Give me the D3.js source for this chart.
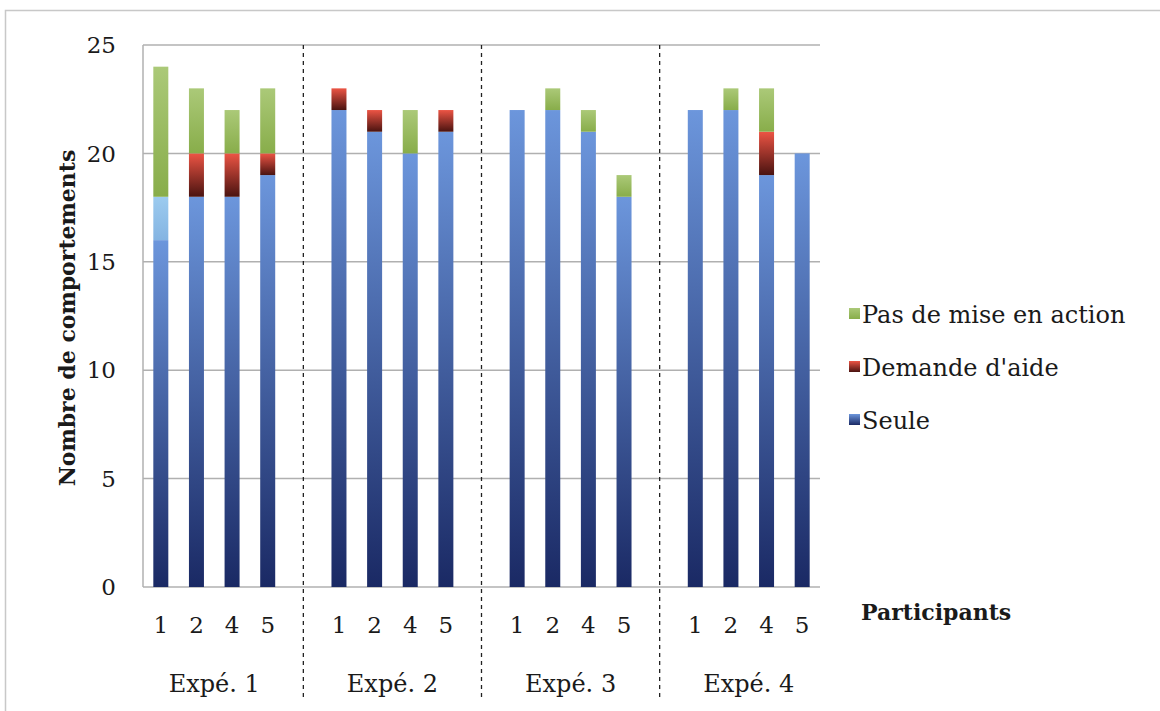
<!DOCTYPE html>
<html>
<head>
<meta charset="utf-8">
<script src="https://cdn.jsdelivr.net/npm/d3@7"></script>
<style>
  html, body { margin: 0; padding: 0; background: #fff; }
  svg text { font-family: "DejaVu Serif", serif; fill: #1a1a1a; }
</style>
</head>
<body>
<svg id="chart" width="1160" height="711"></svg>
<script>
// Experiments and the participants shown in each
const experiments = ["Expé. 1", "Expé. 2", "Expé. 3", "Expé. 4"];
const participants = ["1", "2", "4", "5"];

// Behaviour counts per bar, in order Expé 1 (P1,P2,P4,P5) ... Expé 4
const seule        = [16, 18, 18, 19,  22, 21, 20, 21,  22, 22, 21, 18,  22, 22, 19, 20];
const autre        = [ 2,  0,  0,  0,   0,  0,  0,  0,   0,  0,  0,  0,   0,  0,  0,  0];
const demandeAide  = [ 0,  2,  2,  1,   1,  1,  0,  1,   0,  0,  0,  0,   0,  0,  2,  0];
const pasDeMise    = [ 6,  3,  2,  3,   0,  0,  2,  0,   0,  1,  1,  1,   0,  1,  2,  0];

const yTicks = [0, 5, 10, 15, 20, 25];

const seriesNames = ["Seule", "Autre", "Demande d'aide", "Pas de mise en action"];
const legendNames = ["Pas de mise en action", "Demande d'aide", "Seule"];

const svg = d3.select("#chart");
const defs = svg.append("defs");

// vertical gradients: [top colour, bottom colour]
const grads = {
  "Seule": ["#6c96dc", "#1a2964"],
  "Autre": ["#9ccbef", "#84b4e2"],
  "Demande d'aide": ["#ec5444", "#4a1310"],
  "Pas de mise en action": ["#abc978", "#88ad4a"]
};
Object.entries(grads).forEach(([k, [top, bot]], i) => {
  const g = defs.append("linearGradient").attr("id", "g" + i)
    .attr("x1", 0).attr("y1", 0).attr("x2", 0).attr("y2", 1);
  g.append("stop").attr("offset", "0%").attr("stop-color", top);
  g.append("stop").attr("offset", "100%").attr("stop-color", bot);
});
const gradId = name => "url(#g" + Object.keys(grads).indexOf(name) + ")";

// outer frame
svg.append("rect").attr("x", 5.5).attr("y", 10.5).attr("width", 1170).attr("height", 720)
  .attr("fill", "none").attr("stroke", "#c8c8c8").attr("stroke-width", 1.5);

const plot = { left: 143, right: 820, top: 45, bottom: 587 };

// slots: 4 bars per experiment separated by an empty slot
const slots = [];
experiments.forEach((e, gi) => {
  participants.forEach((p, pi) => slots.push({ key: gi + "-" + pi, exp: gi, part: p, idx: gi * 4 + pi }));
  if (gi < experiments.length - 1) slots.push({ key: "gap" + gi, gap: true });
});

const x = d3.scaleBand().domain(slots.map(s => s.key))
  .range([plot.left, plot.right]).paddingInner(0).paddingOuter(0);
const y = d3.scaleLinear().domain([0, 25]).range([plot.bottom, plot.top]);

// gridlines
svg.append("g").selectAll("line").data(yTicks).join("line")
  .attr("x1", plot.left).attr("x2", plot.right)
  .attr("y1", d => y(d)).attr("y2", d => y(d))
  .attr("stroke", "#b0b0b0").attr("stroke-width", 1.5);

// y axis line
svg.append("line").attr("x1", plot.left).attr("x2", plot.left)
  .attr("y1", plot.top).attr("y2", plot.bottom).attr("stroke", "#b0b0b0").attr("stroke-width", 1.5);

// y tick labels
svg.append("g").selectAll("text").data(yTicks).join("text")
  .attr("x", plot.left - 27).attr("y", d => y(d)).attr("dy", "0.36em")
  .attr("text-anchor", "end").attr("font-size", 23).text(d => d);

// stacked data
const rows = d3.range(16).map(i => ({
  i, "Seule": seule[i], "Autre": autre[i], "Demande d'aide": demandeAide[i], "Pas de mise en action": pasDeMise[i]
}));
const stack = d3.stack().keys(seriesNames)(rows);
const barSlots = slots.filter(s => !s.gap);
const barW = 15;

svg.append("g").selectAll("g").data(stack).join("g")
  .attr("fill", d => gradId(d.key))
  .selectAll("rect").data(d => d.filter(v => v[1] > v[0])).join("rect")
  .attr("x", d => x(barSlots[d.data.i].key) + x.bandwidth() / 2 - barW / 2)
  .attr("width", barW)
  .attr("y", d => y(d[1]))
  .attr("height", d => y(d[0]) - y(d[1]));

// separators between experiments
slots.filter(s => s.gap).forEach(s => {
  const cx = x(s.key) + x.bandwidth() / 2;
  svg.append("line").attr("x1", cx).attr("x2", cx).attr("y1", plot.top).attr("y2", 700)
    .attr("stroke", "#222").attr("stroke-width", 1.3).attr("stroke-dasharray", "4,4");
});

// participant labels
svg.append("g").selectAll("text").data(barSlots).join("text")
  .attr("x", d => x(d.key) + x.bandwidth() / 2).attr("y", 633)
  .attr("text-anchor", "middle").attr("font-size", 23).text(d => d.part);

// experiment labels
svg.append("g").selectAll("text").data(experiments).join("text")
  .attr("x", (d, gi) => (x(gi + "-0") + x(gi + "-3") + x.bandwidth()) / 2).attr("y", 692)
  .attr("text-anchor", "middle").attr("font-size", 24).text(d => d);

// axis titles
svg.append("text").attr("transform", "translate(75,318) rotate(-90)")
  .attr("text-anchor", "middle").attr("font-size", 22).attr("font-weight", "bold")
  .text("Nombre de comportements");
svg.append("text").attr("x", 861).attr("y", 620).attr("font-size", 22).attr("font-weight", "bold")
  .text("Participants");

// legend
const lg = svg.append("g").selectAll("g").data(legendNames).join("g")
  .attr("transform", (d, i) => `translate(849, ${314 + i * 53})`);
lg.append("rect").attr("x", 0).attr("y", -6).attr("width", 11).attr("height", 11)
  .attr("fill", d => gradId(d));
lg.append("text").attr("x", 13).attr("y", 0).attr("dy", "0.36em").attr("font-size", 24).text(d => d);
</script>
</body>
</html>
